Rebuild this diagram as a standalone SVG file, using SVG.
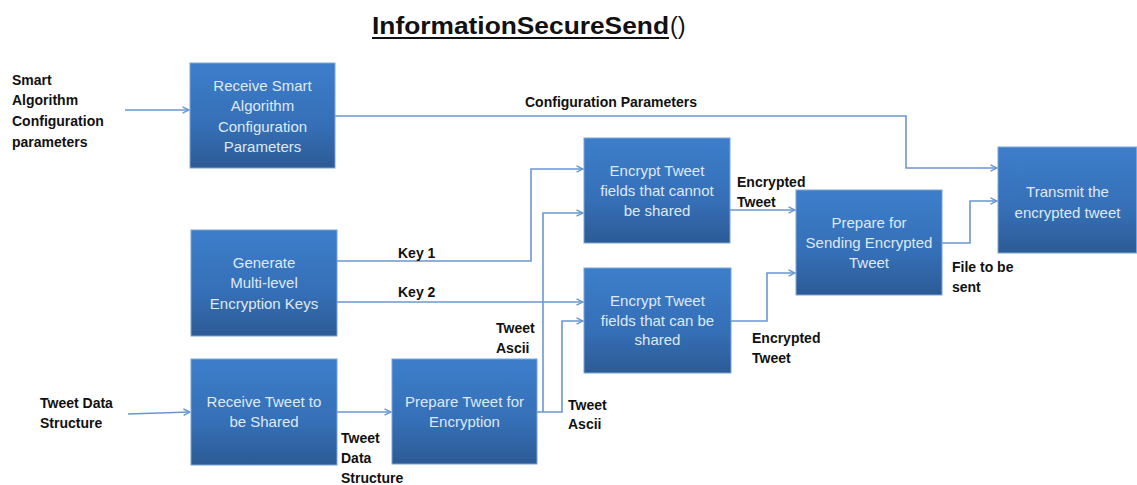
<svg xmlns="http://www.w3.org/2000/svg" width="1137" height="485" viewBox="0 0 1137 485">
<defs>
<linearGradient id="boxg" x1="0" y1="0" x2="0" y2="1">
<stop offset="0" stop-color="#3d7ecb"/>
<stop offset="0.6" stop-color="#356fb6"/>
<stop offset="1" stop-color="#2c5b95"/>
</linearGradient>
<marker id="arr" viewBox="0 0 8 8" refX="7.5" refY="4" markerWidth="8" markerHeight="8" markerUnits="userSpaceOnUse" orient="auto">
<path d="M1,0.8 L7.5,4 L1,7.2" fill="none" stroke="#6b97d0" stroke-width="1.4"/>
</marker>
</defs>
<style>
.box{fill:url(#boxg);stroke:#7aa3d8;stroke-width:1}
.bt{font-family:"Liberation Sans",Arial,sans-serif;font-size:15px;fill:#dfe9f6;text-anchor:middle}
.lb{font-family:"Liberation Sans",Arial,sans-serif;font-size:14px;font-weight:bold;fill:#111}
.c{fill:none;stroke:#6b97d0;stroke-width:1.6}
</style>
<rect width="1137" height="485" fill="#ffffff"/>
<g id="title">
<text x="372" y="34" font-family="'Liberation Sans',Arial,sans-serif" font-size="23.5" font-weight="bold" fill="#111" textLength="297" lengthAdjust="spacingAndGlyphs">InformationSecureSend</text>
<line x1="372" y1="38" x2="669" y2="38" stroke="#111" stroke-width="2"/>
<text x="670" y="34" font-family="'Liberation Sans',Arial,sans-serif" font-size="23.5" fill="#111">()</text>
</g>
<g id="connectors">
<path class="c" d="M125,110 H189" marker-end="url(#arr)"/>
<path class="c" d="M335,116 H906 V168 H997" marker-end="url(#arr)"/>
<path class="c" d="M337,261 H531 V169 H583" marker-end="url(#arr)"/>
<path class="c" d="M337,302 H583" marker-end="url(#arr)"/>
<path class="c" d="M537,412 H562 V321 H583" marker-end="url(#arr)"/>
<path class="c" d="M543,412 V213 H583" marker-end="url(#arr)"/>
<path class="c" d="M730,210 H795" marker-end="url(#arr)"/>
<path class="c" d="M731,321 H767 V273 H795" marker-end="url(#arr)"/>
<path class="c" d="M942,243 H970 V201 H997" marker-end="url(#arr)"/>
<path class="c" d="M128,414 L190,412" marker-end="url(#arr)"/>
<path class="c" d="M337,412 H391" marker-end="url(#arr)"/>
</g>
<g id="labels">
<text class="lb" x="12" y="85">Smart</text>
<text class="lb" x="12" y="105">Algorithm</text>
<text class="lb" x="12" y="126">Configuration</text>
<text class="lb" x="12" y="147">parameters</text>
<text class="lb" x="525" y="107">Configuration Parameters</text>
<text class="lb" x="398" y="258">Key 1</text>
<text class="lb" x="398" y="297">Key 2</text>
<text class="lb" x="737" y="187">Encrypted</text>
<text class="lb" x="737" y="207">Tweet</text>
<text class="lb" x="752" y="343">Encrypted</text>
<text class="lb" x="752" y="363">Tweet</text>
<text class="lb" x="952" y="272">File to be</text>
<text class="lb" x="952" y="292">sent</text>
<text class="lb" x="496" y="333">Tweet</text>
<text class="lb" x="496" y="353">Ascii</text>
<text class="lb" x="568" y="410">Tweet</text>
<text class="lb" x="568" y="429">Ascii</text>
<text class="lb" x="40" y="408">Tweet Data</text>
<text class="lb" x="40" y="428">Structure</text>
<text class="lb" x="341" y="443">Tweet</text>
<text class="lb" x="341" y="463">Data</text>
<text class="lb" x="341" y="483">Structure</text>
</g>
<g id="n-receive-config">
<rect class="box" x="190" y="63" width="145" height="105"/>
<text class="bt" x="262.5" y="91">Receive Smart</text>
<text class="bt" x="262.5" y="111">Algorithm</text>
<text class="bt" x="262.5" y="132">Configuration</text>
<text class="bt" x="262.5" y="152">Parameters</text>
</g>
<g id="n-generate-keys">
<rect class="box" x="191" y="230" width="146" height="106"/>
<text class="bt" x="264" y="268">Generate</text>
<text class="bt" x="264" y="288">Multi-level</text>
<text class="bt" x="264" y="309">Encryption Keys</text>
</g>
<g id="n-receive-tweet">
<rect class="box" x="191" y="359" width="146" height="106"/>
<text class="bt" x="264" y="407">Receive Tweet to</text>
<text class="bt" x="264" y="427">be Shared</text>
</g>
<g id="n-prepare-tweet">
<rect class="box" x="392" y="359" width="145" height="105"/>
<text class="bt" x="464.5" y="407">Prepare Tweet for</text>
<text class="bt" x="464.5" y="427">Encryption</text>
</g>
<g id="n-encrypt-cannot">
<rect class="box" x="584" y="138" width="146" height="105"/>
<text class="bt" x="657" y="176">Encrypt Tweet</text>
<text class="bt" x="657" y="196">fields that cannot</text>
<text class="bt" x="657" y="216">be shared</text>
</g>
<g id="n-encrypt-can">
<rect class="box" x="584" y="268" width="147" height="105"/>
<text class="bt" x="657.5" y="306">Encrypt Tweet</text>
<text class="bt" x="657.5" y="326">fields that can be</text>
<text class="bt" x="657.5" y="345">shared</text>
</g>
<g id="n-prepare-sending">
<rect class="box" x="796" y="190" width="146" height="105"/>
<text class="bt" x="869" y="228">Prepare for</text>
<text class="bt" x="869" y="248">Sending Encrypted</text>
<text class="bt" x="869" y="268">Tweet</text>
</g>
<g id="n-transmit">
<rect class="box" x="998" y="147" width="138.5" height="106"/>
<text class="bt" x="1067.5" y="197">Transmit the</text>
<text class="bt" x="1067.5" y="218">encrypted tweet</text>
</g>
</svg>
